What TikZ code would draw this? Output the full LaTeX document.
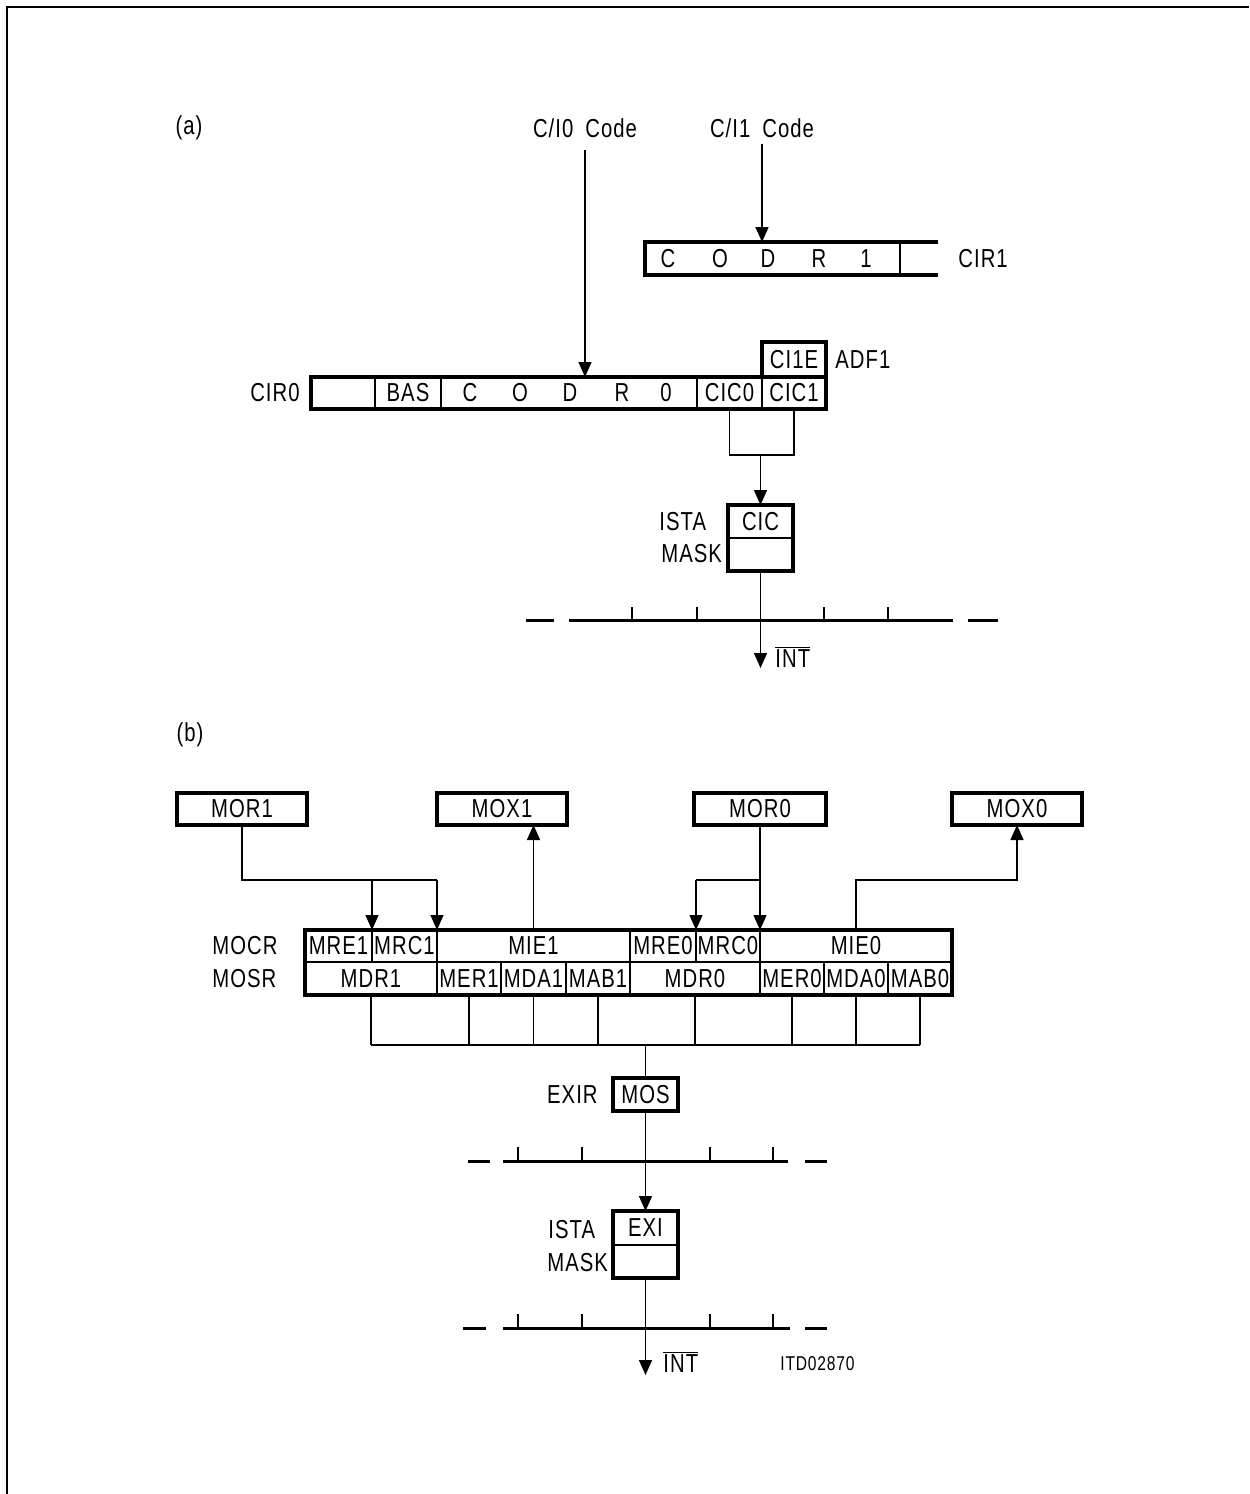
\documentclass[tikz,border=0pt]{standalone}
\usepackage{fontspec}
\newfontfamily\dfont{Liberation Sans}[FakeStretch=0.78,LetterSpace=4]
\usetikzlibrary{arrows.meta}
\newcommand\dtext{\dfont\fontsize{13pt}{15pt}\selectfont}
\newcommand\smtext{\dfont\fontsize{10pt}{12pt}\selectfont}
\newcommand\rcell[7][cell]{\node[#1, minimum width={(#5-#3)*0.5pt}, minimum height={(#6-#4)*0.5pt}] (#2) at ({(#3+#5)/2},{(#4+#6)/2}) {#7};}
\begin{document}
\begin{tikzpicture}[x=0.5pt,y=-0.5pt,
 txt/.style={font=\dtext, inner sep=0pt},
 cell/.style={draw, line width=1.1pt, inner sep=0pt, outer sep=0pt, font=\dtext},
 bcell/.style={cell, line width=1.7pt},
 outer/.style={line width=1.7pt},
 wire/.style={line width=0.75pt},
 arr/.style={wire, -{Triangle[length=7.5pt,width=6.5pt]}},
 bus/.style={line width=1.5pt},
 tick/.style={line width=1.2pt}]
\useasboundingbox (0,0) rectangle (1249,1494);
\draw[line width=1pt] (7,1494) -- (7,7) -- (1249,7);

% ---------------- (a) ----------------
\node[txt] (la) at (189,128) {(a)};
\node[txt] (ci0) at (585,128) {C/I0\hspace{6pt}Code};
\node[txt] (ci1) at (762,128) {C/I1\hspace{6pt}Code};

% CIR1
\node[inner sep=0pt, outer sep=0pt, minimum width=127.5pt, minimum height=16.5pt] (cir1) at (772.5,258.5) {};
\draw[outer] (938,242) -- (645,242) -- (645,275) -- (938,275);
\draw[line width=1.1pt] (900,242) -- (900,275);
\foreach \x/\l [count=\i] in {668/C,720/O,768/D,819/R,866/1}
  \node[txt] (cl\i) at (\x,259) {\l};
\node[txt, anchor=west] (lcir1) at (958,259) {CIR1};
\draw[arr] ([yshift=-3pt]ci1.south) -- (ci1.south |- cir1.north);

% CIR0
\rcell{e0}{311}{377}{375}{409}{}
\rcell{bas}{375}{377}{441}{409}{BAS}
\rcell{codr0}{441}{377}{697}{409}{}
\rcell{cic0}{697}{377}{762}{409}{CIC0}
\rcell{cic1}{762}{377}{826}{409}{CIC1}
\draw[outer] (e0.north west) rectangle (cic1.south east);
\rcell[bcell]{ci1e}{762}{342}{826}{377}{CI1E}
\foreach \x/\l [count=\i] in {470/C,520/O,570/D,622/R,666/0}
  \node[txt] (c0l\i) at (\x,393) {\l};
\node[txt, anchor=east] (lcir0) at (300,393) {CIR0};
\node[txt, anchor=west] (ladf1) at (835,360) {ADF1};
\draw[arr] ([yshift=-6pt]ci0.south) -- (ci0.south |- codr0.north);

% CIC -> ISTA
\coordinate (j1) at (760.5,455);
\draw[wire] (cic0.south) |- (j1) -| (cic1.south);
\rcell{cic}{728}{505}{793}{538}{CIC}
\rcell{mask1}{728}{538}{793}{571}{}
\draw[outer] (cic.north west) rectangle (mask1.south east);
\draw[arr] (j1) -- (cic.north);
\node[txt, anchor=west] (lista1) at (659,522) {ISTA};
\node[txt, anchor=west] (lmask1) at (661,554) {MASK};

% bus 1
\draw[bus] (526,620) -- (554,620) (569,620) -- (953,620) (968,620) -- (998,620);
\foreach \x in {632,697,824,888} \draw[tick] (\x,620) -- (\x,607);
\coordinate (int1) at (760.5,668);
\draw[arr] (mask1.south) -- (int1);
\node[txt, anchor=west] (lint1) at (775,657) {$\overline{\hbox{INT}}$};

% ---------------- (b) ----------------
\node[txt] (lb) at (190,735) {(b)};
\rcell[bcell]{mor1}{177}{793}{307}{825}{MOR1}
\rcell[bcell]{mox1}{437}{793}{567}{825}{MOX1}
\rcell[bcell]{mor0}{694}{793}{826}{825}{MOR0}
\rcell[bcell]{mox0}{952}{793}{1082}{825}{MOX0}

% MOCR
\rcell{mre1}{305}{930}{372}{962}{MRE1}
\rcell{mrc1}{372}{930}{437}{962}{MRC1}
\rcell{mie1}{437}{930}{630}{962}{MIE1}
\rcell{mre0}{630}{930}{696}{962}{MRE0}
\rcell{mrc0}{696}{930}{760}{962}{MRC0}
\rcell{mie0}{760}{930}{952}{962}{MIE0}
% MOSR
\rcell{mdr1}{305}{962}{437}{995}{MDR1}
\rcell{mer1}{437}{962}{501}{995}{MER1}
\rcell{mda1}{501}{962}{566}{995}{MDA1}
\rcell{mab1}{566}{962}{630}{995}{MAB1}
\rcell{mdr0}{630}{962}{760}{995}{MDR0}
\rcell{mer0}{760}{962}{824}{995}{MER0}
\rcell{mda0}{824}{962}{888}{995}{MDA0}
\rcell{mab0}{888}{962}{952}{995}{MAB0}
\draw[outer] (mre1.north west) rectangle (mab0.south east);
\node[txt, anchor=west] (lmocr) at (212,946) {MOCR};
\node[txt, anchor=west] (lmosr) at (212,979) {MOSR};

% top connections
\coordinate (k1) at (372,880);
\coordinate (k2) at (437,880);
\draw[wire] (mor1.south) |- (k2);
\draw[arr] (k1) -- (mre1.north east);
\draw[arr] (k2) -- (mrc1.north east);
\draw[arr] (mie1.north) -- (mie1.north |- mox1.south);
\coordinate (k3) at (696,880);
\draw[wire] (k3) -- (mor0.south |- k3);
\draw[arr] (mor0.south) -- (mrc0.north east);
\draw[arr] (k3) -- (mre0.north east);
\draw[arr] (mie0.north) -- (mie0.north |- k3) -| (mox0.south);

% status collection
\coordinate (jb) at (645.5,1045);
\foreach \n in {mdr1,mer1,mda1,mab1,mdr0,mer0,mda0,mab0}
  \draw[wire] (\n.south) -- (\n.south |- jb);
\draw[wire] (mdr1.south |- jb) -- (mab0.south |- jb);
\rcell[bcell]{mos}{613}{1078}{678}{1111}{MOS}
\draw[wire] (jb) -- (mos.north);
\node[txt, anchor=east] (lexir) at (598,1095) {EXIR};

% bus 2
\draw[bus] (468,1161) -- (490,1161) (503,1161) -- (788,1161) (805,1161) -- (827,1161);
\foreach \x in {518,582,710,773} \draw[tick] (\x,1161) -- (\x,1147);
\coordinate (b2) at (645.5,1161);
\draw[wire] (mos.south) -- (b2);
\rcell{exi}{613}{1211}{678}{1245}{EXI}
\rcell{mask2}{613}{1245}{678}{1278}{}
\draw[outer] (exi.north west) rectangle (mask2.south east);
\draw[arr] (b2) -- (exi.north);
\node[txt, anchor=west] (lista2) at (548,1230) {ISTA};
\node[txt, anchor=west] (lmask2) at (547,1263) {MASK};

% bus 3
\draw[bus] (463,1328) -- (486,1328) (503,1328) -- (790,1328) (805,1328) -- (827,1328);
\foreach \x in {518,582,710,773} \draw[tick] (\x,1328) -- (\x,1314);
\coordinate (int2) at (645.5,1375);
\draw[arr] (mask2.south) -- (int2);
\node[txt, anchor=west] (lint2) at (663,1362) {$\overline{\hbox{INT}}$};
\node[txt, font=\smtext, anchor=west] (litd) at (780,1364) {ITD02870};
\end{tikzpicture}
\end{document}
